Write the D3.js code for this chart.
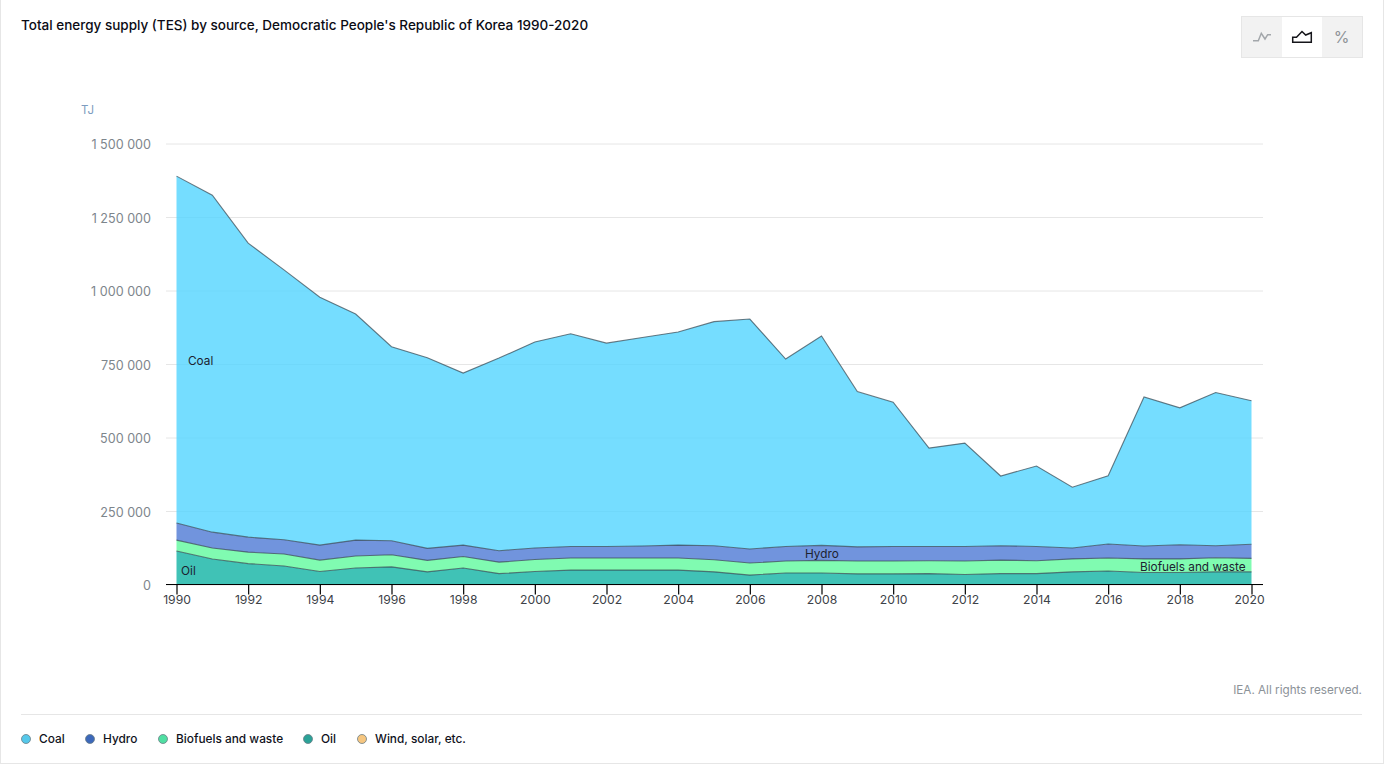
<!DOCTYPE html>
<html lang="en">
<head>
  <meta charset="UTF-8" />
  <title>Total energy supply (TES) by source</title>
  <script src="https://d3js.org/d3.v7.min.js"></script>
  <style>
    body { margin: 0; background: #fff; overflow: hidden; font-family: "Inter", sans-serif; }
    svg { display: block; }
    .title { font-size: 13.5px; font-weight: 500; fill: #0b0b14; }
    .grid line { stroke: #e6e6e6; }
    .grid path, .y-axis path, .y-axis line { display: none; }
    .y-axis text { font-size: 12.6px; fill: #7d858c; font-family: "Inter", sans-serif; }
    .x-axis path, .x-axis line { stroke: #000; stroke-width: 1.2px; }
    .x-axis text { font-size: 12.2px; fill: #3d4248; font-family: "Inter", sans-serif; }
    .area { fill-opacity: 0.8; }
    .edge { fill: none; stroke: #35454f; stroke-opacity: 0.7; stroke-width: 1.1px; }
    .area-label { font-size: 11.8px; fill: #1c2230; }
    .legend-label { font-size: 11.85px; font-weight: 500; fill: #10121c; }
    .legend-dot { stroke: #6b7d86; stroke-width: 0.8px; }
  </style>
</head>
<body>
<svg id="chart" width="1384" height="764"></svg>
<script>
const years = d3.range(1990, 2021);
const yTicks = [0, 250000, 500000, 750000, 1000000, 1250000, 1500000];
const xTicks = years.filter(d => d % 2 === 0);

const sources = ["Coal", "Hydro", "Biofuels and waste", "Oil", "Wind, solar, etc."];

const coal = [1180000, 1146000, 1000000, 918000, 843000, 769000, 660000, 648000, 585000, 655000, 701000,
  724000, 692000, 709000, 725000, 762000, 782000, 638000, 712000, 528000, 491000,
  335000, 352000, 237000, 274000, 207000, 232000, 507000, 466000, 521000, 488000];
const hydro = [58000, 54000, 51000, 48000, 51000, 54000, 48000, 41000, 39000, 39000, 39000,
  39000, 39000, 41000, 44000, 48000, 48000, 49000, 51000, 48000, 49000,
  48000, 49000, 49000, 48000, 37000, 48000, 44000, 48000, 41000, 48000];
const biofuels = [37000, 37000, 39000, 41000, 39000, 41000, 41000, 39000, 39000, 39000, 41000,
  41000, 41000, 41000, 41000, 41000, 41000, 41000, 43000, 44000, 44000,
  44000, 46000, 46000, 44000, 44000, 44000, 46000, 46000, 48000, 46000];
const oil = [114000, 87000, 71000, 63000, 44000, 56000, 60000, 43000, 56000, 37000, 44000,
  49000, 49000, 49000, 49000, 43000, 32000, 39000, 39000, 36000, 36000,
  37000, 34000, 37000, 37000, 43000, 46000, 41000, 41000, 43000, 43000];
const windSolar = years.map(() => 0);

const seriesValues = { "Coal": coal, "Hydro": hydro, "Biofuels and waste": biofuels, "Oil": oil, "Wind, solar, etc.": windSolar };
const areaColors = { "Coal": "#52d5ff", "Hydro": "#4d79d4", "Biofuels and waste": "#60fa9d", "Oil": "#10b3a4", "Wind, solar, etc.": "#f5c37a" };
const legendColors = ["#55c8ea", "#3c68ba", "#50dfa2", "#2ba297", "#f6c680"];
const stackOrder = ["Oil", "Biofuels and waste", "Hydro", "Coal", "Wind, solar, etc."];

const svg = d3.select("#chart");

// page frame
svg.append("rect").attr("x", 0.5).attr("y", -2).attr("width", 1383).attr("height", 765.5)
  .attr("fill", "none").attr("stroke", "#e6e6e6");

svg.append("text").attr("class", "title").attr("x", 21).attr("y", 30)
  .text("Total energy supply (TES) by source, Democratic People's Republic of Korea 1990-2020");

const x = d3.scaleLinear().domain([1990, 2020]).range([176.5, 1251.5]);
const y = d3.scaleLinear().domain([0, 1500000]).range([584.5, 143.5]);
const fmt = d3.formatLocale({ thousands: " ", grouping: [3], decimal: ".", currency: ["", ""] }).format(",d");

// gridlines go under the areas
svg.append("g").attr("class", "grid").attr("transform", "translate(1263,0)")
  .call(d3.axisLeft(y).tickValues(yTicks).tickSize(1097).tickFormat(""));

const table = years.map((yr, i) => {
  const row = { year: yr };
  sources.forEach(s => { row[s] = seriesValues[s][i]; });
  return row;
});
const stacked = d3.stack().keys(stackOrder)(table);

const area = d3.area().x(d => x(d.data.year)).y0(d => y(d[0])).y1(d => y(d[1]));
const topLine = d3.line().x(d => x(d.data.year)).y(d => y(d[1]));

svg.append("g").selectAll("path").data(stacked).join("path")
  .attr("class", "area").attr("fill", d => areaColors[d.key]).attr("d", area);
svg.append("g").selectAll("path").data(stacked.filter(d => d.key !== "Wind, solar, etc.")).join("path")
  .attr("class", "edge").attr("d", topLine);

svg.append("g").attr("class", "y-axis").attr("transform", "translate(151,1)")
  .call(d3.axisLeft(y).tickValues(yTicks).tickSize(0).tickPadding(0).tickFormat(fmt));

const xAxis = svg.append("g").attr("class", "x-axis").attr("transform", "translate(0,584.5)")
  .call(d3.axisBottom(x).tickValues(xTicks).tickSize(10).tickSizeOuter(0).tickPadding(1).tickFormat(d3.format("d")));
xAxis.select(".domain").attr("d", "M166,0H1263");
// last label is pulled in so it stays within the axis line
xAxis.selectAll("text").filter(d => d === 2020).attr("dx", -2.5);

svg.append("text").attr("x", 81).attr("y", 114).attr("font-size", 11.5).attr("fill", "#7d9cc0").text("TJ");

const areaLabels = [["Coal", 188, 365], ["Hydro", 805, 558], ["Biofuels and waste", 1140, 571], ["Oil", 181, 575]];
svg.append("g").selectAll("text").data(areaLabels).join("text")
  .attr("class", "area-label").attr("x", d => d[1]).attr("y", d => d[2]).text(d => d[0]);

svg.append("text").attr("x", 1362).attr("y", 694).attr("text-anchor", "end")
  .attr("font-size", 11.7).attr("fill", "#8c9298").text("IEA. All rights reserved.");

svg.append("line").attr("x1", 21).attr("x2", 1362).attr("y1", 714.5).attr("y2", 714.5).attr("stroke", "#e6e6e6");

// legend
const legendX = [26, 90, 163, 308, 362];
const legend = svg.append("g").selectAll("g").data(sources).join("g")
  .attr("transform", (d, i) => `translate(${legendX[i]},739)`);
legend.append("circle").attr("class", "legend-dot").attr("r", 4.5).attr("fill", (d, i) => legendColors[i]);
legend.append("text").attr("class", "legend-label").attr("x", 13).attr("y", 4).text(d => d);

// chart type switcher
const buttons = svg.append("g");
buttons.append("rect").attr("x", 1241.5).attr("y", 16.5).attr("width", 121).attr("height", 41)
  .attr("fill", "#f2f2f2").attr("stroke", "#e6e6e6");
buttons.append("rect").attr("x", 1282).attr("y", 17).attr("width", 40).attr("height", 40).attr("fill", "#fff");
buttons.append("path").attr("d", "M1253,40.7H1258.3L1261.3,33.3L1265,39L1267.7,34.7H1271")
  .attr("fill", "none").attr("stroke", "#a3a7ab").attr("stroke-width", 1.5);
buttons.append("path").attr("d", "M1292.7,42.3V37.3H1296.5L1302,31.5L1305.7,35L1311.3,32.7V42.3Z")
  .attr("fill", "none").attr("stroke", "#15151a").attr("stroke-width", 1.5);
buttons.append("text").attr("x", 1341.5).attr("y", 43).attr("text-anchor", "middle")
  .attr("font-size", 16).attr("fill", "#8f9498").text("%");
</script>
</body>
</html>
